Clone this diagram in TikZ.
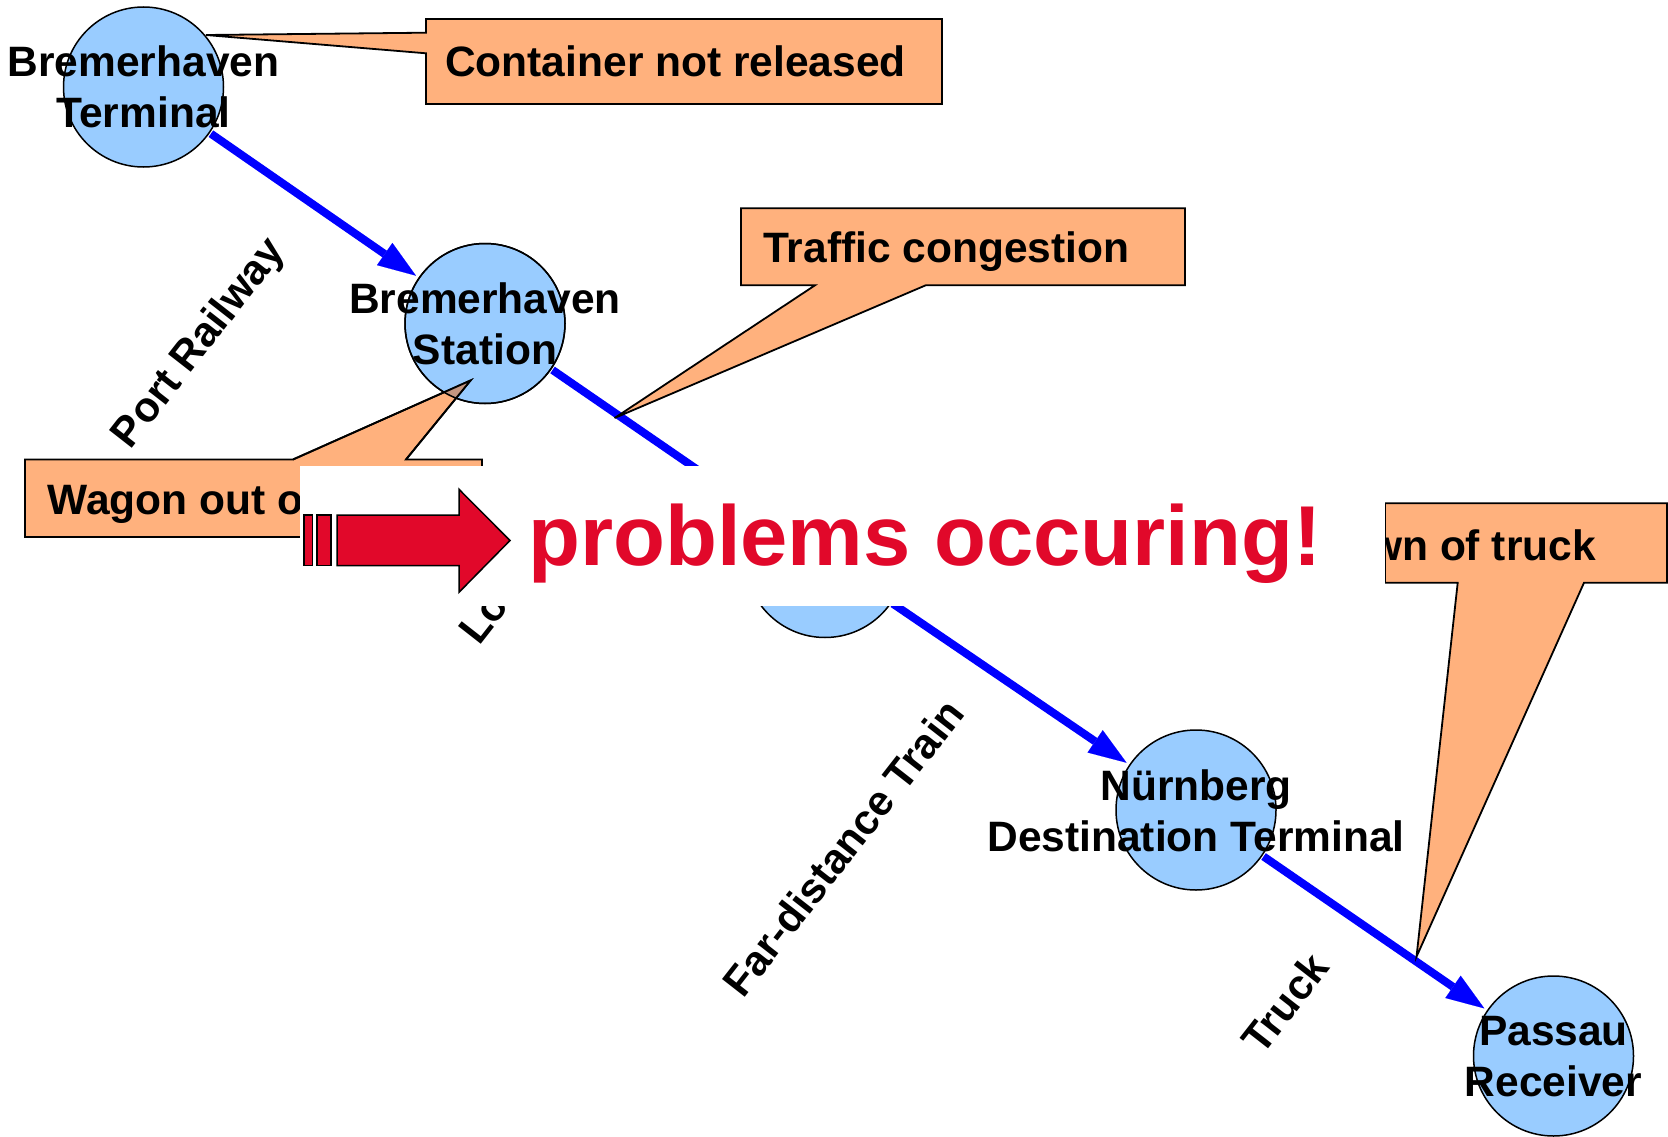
\documentclass[tikz,border=0pt]{standalone}
\usepackage{fontspec}
\setmainfont{Liberation Sans}
\usetikzlibrary{arrows.meta}

\definecolor{nodeblue}{RGB}{153,204,255}
\definecolor{calloutorange}{RGB}{255,177,125}
\definecolor{overlapbrown}{RGB}{196,150,128}
\definecolor{flowblue}{RGB}{0,0,255}
\definecolor{alertred}{RGB}{225,8,42}

\begin{document}
\begin{tikzpicture}[x=1pt,y=-1pt,
  stop/.style={circle,draw=black,line width=1.5pt,fill=nodeblue,
    minimum size=160pt,inner sep=0pt,outer sep=0pt},
  stoptext/.style={align=center,inner sep=0pt,
    font=\fontsize{42.5pt}{51pt}\selectfont\bfseries},
  flow/.style={draw=flowblue,line width=8pt,shorten >=4pt,shorten <=2pt,
    -{Triangle[length=38pt,width=27pt,line width=0.1pt]}},
  callout/.style={draw=black,line width=1.8pt,fill=calloutorange,line join=miter},
  callouttext/.style={anchor=base west,inner sep=0pt,
    font=\fontsize{42.5pt}{51pt}\selectfont\bfseries},
  modelabel/.style={rotate=52,inner sep=0pt,
    font=\fontsize{42pt}{50pt}\selectfont\bfseries},
  bigarrow/.style={draw=black,line width=1.5pt,fill=alertred,line join=miter}
]
\useasboundingbox (0,0) rectangle (1668,1137);
\fill[white] (0,0) rectangle (1668,1137);

% transport chain stops
\node[stop] (T) at (143.5,87) {};
\node[stop] (S) at (485,323.5) {};
\node[stop] (M) at (825,557.5) {};
\node[stop] (N) at (1196,810) {};
\node[stop] (P) at (1553.5,1056) {};

% transport legs
\draw[flow] (T) -- (S);
\draw[flow] (S) -- (M);
\draw[flow] (M) -- (N);
\draw[flow] (N) -- (P);

% transport modes along the legs
\node[modelabel] (lport) at (200,344) {Port Railway};
\node[modelabel,anchor=base west] (llocal) at (479,646.4) {Lo};
\node[modelabel] (lfar) at (843,847.5) {Far-distance Train};
\node[modelabel] (ltruck) at (1285,1003) {Truck};

% callouts
\draw[callout] (426,19) -- (942,19) -- (942,104) -- (426,104) -- (426,53.3)
  -- (206,35) -- (426,32.7) -- cycle;
\draw[callout] (741,208.3) -- (1185,208.3) -- (1185,285.3) -- (925.7,285.3)
  -- (614.6,418) -- (815,285.3) -- (741,285.3) -- cycle;
\draw[callout] (25,459.5) -- (293,459.5) -- (470.5,380.5) -- (406,459.5)
  -- (482,459.5) -- (482,537) -- (25,537) -- cycle;
\draw[callout] (1385,503.3) -- (1667,503.3) -- (1667,582.7) -- (1584,582.7)
  -- (1416.5,956.7) -- (1457.7,582.7) -- (1385,582.7) -- cycle;

% pointer tip seen through the station circle
\begin{scope}
  \clip (S.center) circle (80pt);
  \fill[overlapbrown] (293,459.5) -- (470.5,380.5) -- (406,459.5) -- cycle;
\end{scope}
\draw[line width=1.5pt] (S.center) circle (80pt);
\draw[line width=1.8pt,line join=miter] (293,459.5) -- (470.5,380.5) -- (406,459.5);

% callout texts
\node[callouttext] (cc) at (445,76.7) {Container not released};
\node[callouttext] (ct) at (763,262.7) {Traffic congestion};
\node[callouttext] (cw) at (47.5,514.3) {Wagon out o};
\node[callouttext] (cb) at (1369,560) {wn of truck};

% stop names
\node[stoptext] (tT) at (T.center) {Bremerhaven\\Terminal};
\node[stoptext] (tS) at (S.center) {Bremerhaven\\Station};
\node[stoptext] (tN) at ([yshift=-1pt]N.center) {Nürnberg\\Destination Terminal};
\node[stoptext] (tP) at ([yshift=-1pt]P.center) {Passau\\Receiver};

% banner laid over the chain
\fill[white] (300,465.5) rectangle (1385,605.7);
\draw[bigarrow] (304,515) rectangle (312.5,565.7);
\draw[bigarrow] (317,515) rectangle (331,565.7);
\draw[bigarrow] (337,515) -- (459,515) -- (459,489.3) -- (510,540.5)
  -- (459,592.3) -- (459,565.7) -- (337,565.7) -- cycle;
\node[anchor=base west,inner sep=0pt,text=alertred,
  font=\fontsize{85pt}{100pt}\selectfont\bfseries] (alert) at (528,565)
  {problems occuring!};
\end{tikzpicture}
\end{document}
